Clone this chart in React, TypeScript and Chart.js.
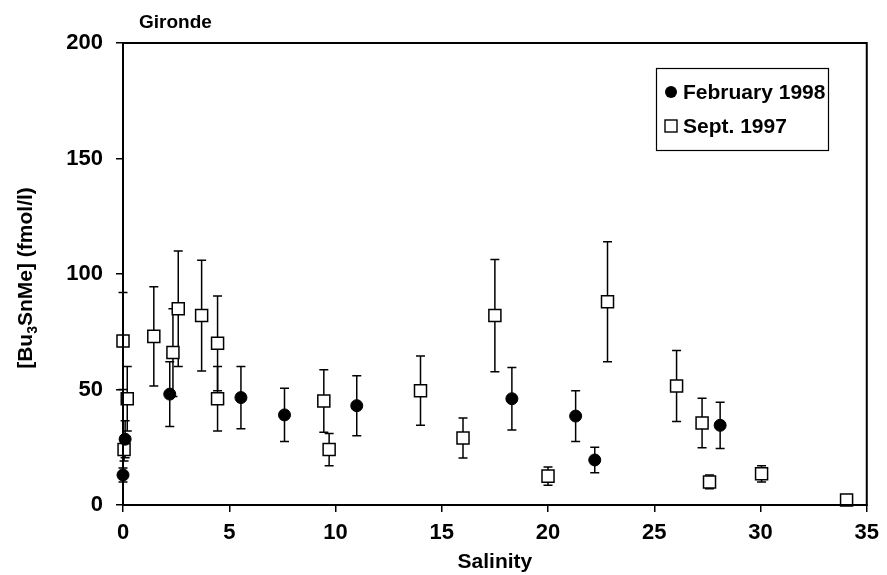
import React, { useEffect, useRef } from "react";
import { Chart, registerables } from "chart.js";

Chart.register(...registerables);

// February 1998 (filled circles)
const febSalinity = [0, 0.1, 2.2, 5.55, 7.6, 11, 18.3, 21.3, 22.2, 28.1];
const febConc = [13, 28.5, 48, 46.5, 39, 43, 46, 38.5, 19.5, 34.5];
const febErr = [3, 8, 14, 13.5, 11.5, 13, 13.5, 11, 5.5, 10];

// Sept. 1997 (open squares)
const sepSalinity = [0, 0.05, 0.2, 1.45, 2.35, 2.6, 3.7, 4.45, 4.45, 9.45, 9.7, 14, 16, 17.5, 20, 22.8, 26.05, 27.25, 27.6, 30.05, 34.05];
const sepConc = [71, 24, 46, 73, 66, 85, 82, 70, 46, 45, 24, 49.5, 29, 82, 12.5, 88, 51.5, 35.5, 10, 13.5, 2.2];
const sepErr = [21, 5, 14, 21.5, 19, 25, 24, 20.5, 14, 13.5, 7, 15, 8.7, 24.3, 4, 26, 15.4, 10.7, 3, 3.5, 1];

const xTicks = [0, 5, 10, 15, 20, 25, 30, 35];
const yTicks = [0, 50, 100, 150, 200];

const FONT = "'Liberation Sans', Arial, sans-serif";

const errorBarPlugin = {
  id: "errorBars",
  beforeDatasetsDraw(chart: any) {
    const ctx = chart.ctx;
    const xs = chart.scales.x;
    const ys = chart.scales.y;
    ctx.save();
    ctx.strokeStyle = "#000";
    ctx.lineWidth = 1.5;
    chart.data.datasets.forEach((ds: any) => {
      ds.data.forEach((p: any) => {
        const px = xs.getPixelForValue(p.x);
        const top = ys.getPixelForValue(p.y + p.e);
        const bot = ys.getPixelForValue(Math.max(0, p.y - p.e));
        ctx.beginPath();
        ctx.moveTo(px, top);
        ctx.lineTo(px, bot);
        ctx.moveTo(px - 4.5, top);
        ctx.lineTo(px + 4.5, top);
        ctx.moveTo(px - 4.5, bot);
        ctx.lineTo(px + 4.5, bot);
        ctx.stroke();
      });
    });
    ctx.restore();
  },
};

const framePlugin = {
  id: "frame",
  afterDraw(chart: any) {
    const { ctx, chartArea: a } = chart;
    ctx.save();
    ctx.strokeStyle = "#000";
    ctx.lineWidth = 2;
    ctx.strokeRect(a.left, a.top, a.right - a.left, a.bottom - a.top);

    ctx.fillStyle = "#000";
    // Title
    ctx.font = `bold 19px ${FONT}`;
    ctx.textAlign = "left";
    ctx.textBaseline = "alphabetic";
    ctx.fillText("Gironde", 139, 28);

    // X axis title
    ctx.font = `bold 21px ${FONT}`;
    ctx.textAlign = "center";
    ctx.fillText("Salinity", (a.left + a.right) / 2, 568);

    // Y axis title (rotated) with subscript
    ctx.save();
    ctx.translate(32, 278);
    ctx.rotate(-Math.PI / 2);
    const big = `bold 21px ${FONT}`;
    const small = `bold 14px ${FONT}`;
    const parts: [string, string, number][] = [
      ["[Bu", big, 0],
      ["3", small, 5],
      ["SnMe] (fmol/l)", big, 0],
    ];
    let total = 0;
    parts.forEach(([t, f]) => {
      ctx.font = f;
      total += ctx.measureText(t).width;
    });
    let x = -total / 2;
    ctx.textAlign = "left";
    parts.forEach(([t, f, dy]) => {
      ctx.font = f;
      ctx.fillText(t, x, dy);
      x += ctx.measureText(t).width;
    });
    ctx.restore();

    // Legend
    const bx = 656, by = 68, bw = 172, bh = 82;
    ctx.fillStyle = "#fff";
    ctx.fillRect(bx, by, bw, bh);
    ctx.lineWidth = 1.2;
    ctx.strokeRect(bx + 0.5, by + 0.5, bw, bh);
    ctx.fillStyle = "#000";
    ctx.font = `bold 21px ${FONT}`;
    ctx.textAlign = "left";
    ctx.textBaseline = "middle";
    // row 1
    ctx.beginPath();
    ctx.arc(bx + 15, by + 24, 6, 0, Math.PI * 2);
    ctx.fill();
    ctx.fillText("February 1998", bx + 27, by + 25);
    // row 2
    ctx.lineWidth = 1.4;
    ctx.strokeRect(bx + 9, by + 52, 12, 12);
    ctx.fillText("Sept. 1997", bx + 27, by + 59);
    ctx.restore();
  },
};

export default function App() {
  const ref = useRef<HTMLCanvasElement>(null);
  useEffect(() => {
    document.body.style.margin = "0";
    const canvas = ref.current!;
    const chart = new Chart(canvas, {
      type: "scatter",
      data: {
        datasets: [
          {
            label: "February 1998",
            data: febSalinity.map((x, i) => ({ x, y: febConc[i], e: febErr[i] })) as any,
            pointStyle: "circle",
            pointRadius: 6,
            backgroundColor: "#000",
            borderColor: "#000",
            borderWidth: 1,
            clip: false as any,
          },
          {
            label: "Sept. 1997",
            data: sepSalinity.map((x, i) => ({ x, y: sepConc[i], e: sepErr[i] })) as any,
            pointStyle: "rect",
            pointRadius: 8.5,
            backgroundColor: "#fff",
            borderColor: "#000",
            borderWidth: 1.5,
            clip: false as any,
          },
        ],
      },
      options: {
        responsive: false,
        animation: false,
        events: [],
        layout: { padding: { top: 43, right: 17, left: 0, bottom: 0 } },
        plugins: {
          legend: { display: false },
          tooltip: { enabled: false },
          title: { display: false },
        },
        scales: {
          x: {
            type: "linear",
            min: 0,
            max: 35,
            afterBuildTicks: (s: any) => {
              s.ticks = xTicks.map((v) => ({ value: v }));
            },
            ticks: {
              color: "#000",
              font: { family: FONT, size: 22, weight: "bold" },
              padding: 8,
              maxRotation: 0,
            },
            grid: {
              display: true,
              drawOnChartArea: false,
              drawTicks: true,
              tickLength: 7,
              color: "#000",
              lineWidth: 1.5,
            },
            border: { display: true, color: "#000", width: 2 },
            afterFit: (s: any) => {
              s.height = 70;
            },
          },
          y: {
            type: "linear",
            min: 0,
            max: 200,
            afterBuildTicks: (s: any) => {
              s.ticks = yTicks.map((v) => ({ value: v }));
            },
            ticks: {
              color: "#000",
              font: { family: FONT, size: 22, weight: "bold" },
              padding: 13,
            },
            grid: {
              display: true,
              drawOnChartArea: false,
              drawTicks: true,
              tickLength: 7,
              color: "#000",
              lineWidth: 1.5,
            },
            border: { display: true, color: "#000", width: 2 },
            afterFit: (s: any) => {
              s.width = 123;
            },
          },
        },
      },
      plugins: [errorBarPlugin, framePlugin],
    });
    return () => chart.destroy();
  }, []);
  return <canvas ref={ref} width={887} height={575} style={{ display: "block" }} />;
}
